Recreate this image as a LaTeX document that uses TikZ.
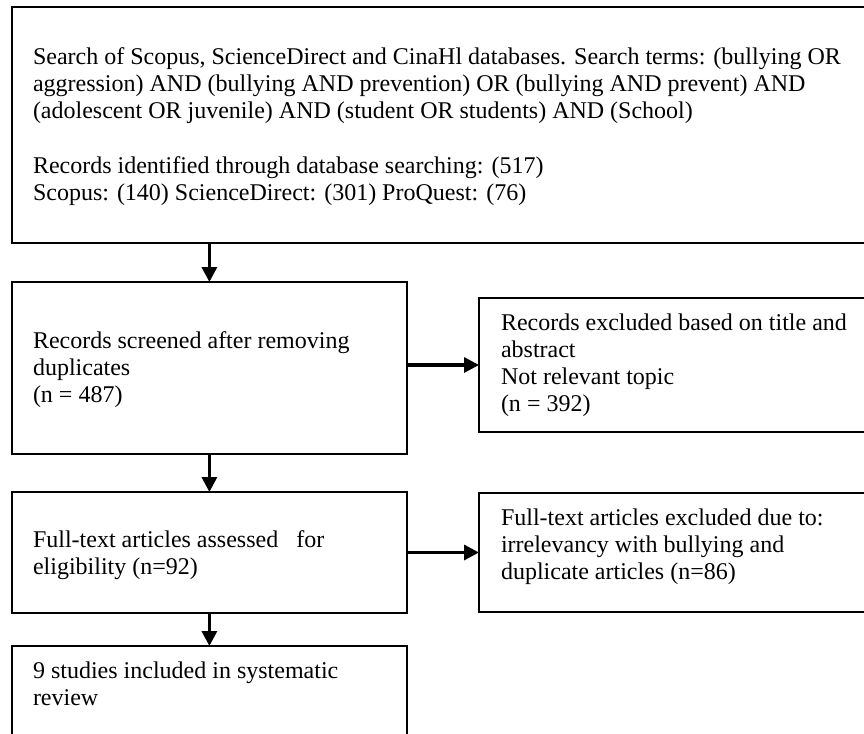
\documentclass[tikz,border=0pt]{standalone}
\usepackage{fontspec}
\setmainfont{Liberation Serif}
\usetikzlibrary{arrows.meta}
\begin{document}
\begin{tikzpicture}[x=1pt,y=-1pt,
  box/.style={draw=black, line width=2pt, fill=none, inner sep=0pt, outer sep=0pt, anchor=north west},
  txt/.style={inner sep=0pt, outer sep=0pt, anchor=base west, font=\fontsize{24}{27.3}\selectfont},
  arr/.style={line width=3.3pt, -{Triangle[length=15pt,width=15pt]}}]
\useasboundingbox (0,0) rectangle (864,733);
\clip (0,0) rectangle (864,733);
% boxes
\node[box, minimum width=900pt, minimum height=235.5pt] (b1) at (12.3,7.5) {};
\node[box, minimum width=394.2pt, minimum height=172pt] (b2) at (12.3,282) {};
\node[box, minimum width=450pt, minimum height=134pt] (r1) at (479,298) {};
\node[box, minimum width=394.2pt, minimum height=120.7pt] (b3) at (12.3,492) {};
\node[box, minimum width=450pt, minimum height=119pt] (r2) at (479,493) {};
\node[box, minimum width=394.2pt, minimum height=150pt] (b4) at (12.3,646) {};
% texts
\node[txt] (t1) at (33,64.3) {\parbox[t]{820pt}{\raggedright
Search of Scopus, ScienceDirect and CinaHl databases. Search terms: (bullying OR\\
aggression) AND (bullying AND prevention) OR (bullying AND prevent) AND\\
(adolescent OR juvenile) AND (student OR students) AND (School)\\[27.3pt]
Records identified through database searching: (517)\\
Scopus: (140) ScienceDirect: (301) ProQuest: (76)}};
\node[txt] (t2) at (33,348) {\parbox[t]{360pt}{\raggedright
Records screened after removing\\
duplicates\\
(n = 487)}};
\node[txt] (t3) at (501,330) {\parbox[t]{360pt}{\raggedright
Records excluded based on title and\\
abstract\\
Not relevant topic\\
(n = 392)}};
\node[txt] (t4) at (33,547) {\parbox[t]{360pt}{\raggedright
Full-text articles assessed\ \ \ for\\
eligibility (n=92)}};
\node[txt] (t5) at (501,525) {\parbox[t]{360pt}{\raggedright
Full-text articles excluded due to:\\
irrelevancy with bullying and\\
duplicate articles (n=86)}};
\node[txt] (t6) at (33,678) {\parbox[t]{360pt}{\raggedright
9 studies included in systematic\\
review}};
% connectors
\draw[arr] (b2.north |- b1.south) -- (b2.north);
\draw[arr] (b2.south) -- (b3.north);
\draw[arr] (b3.south) -- (b4.north);
\draw[arr] (b2.east |- r1.west) -- (r1.west);
\draw[arr] (b3.east |- r2.west) -- (r2.west);
\end{tikzpicture}
\end{document}
